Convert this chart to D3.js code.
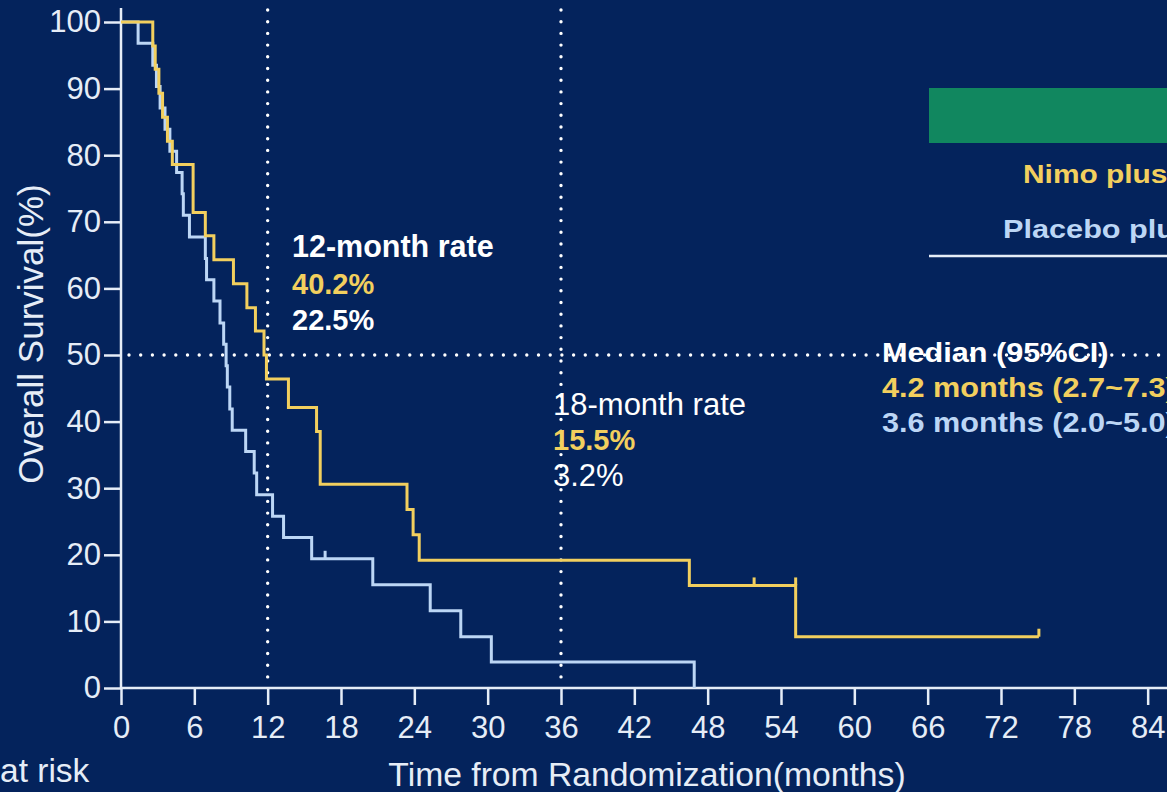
<!DOCTYPE html>
<html>
<head>
<meta charset="utf-8">
<script src="https://cdn.jsdelivr.net/npm/d3@7"></script>
<style>
  html, body { margin: 0; padding: 0; background: #04235c; overflow: hidden; }
  svg { display: block; font-family: "Liberation Sans", Arial, sans-serif; }
</style>
</head>
<body>
<svg id="chart" width="1167" height="792"></svg>
<script>
// Kaplan–Meier step data (months, survival %)
const nimoTimes = [0, 2.6, 2.8, 3.1, 3.4, 3.8, 4.2, 5.9, 6.9, 7.6, 9.2, 10.3, 11.0, 11.7, 11.9, 13.7, 16.0, 16.3, 23.4, 23.9, 24.4, 46.5, 55.2, 75.1];
const nimoSurv  = [100, 96.4, 92.9, 89.3, 85.7, 82.1, 78.6, 71.4, 67.9, 64.3, 60.7, 57.1, 53.6, 50.0, 46.4, 42.1, 38.5, 30.6, 26.8, 23.0, 19.2, 15.4, 7.7, 7.7];
const nimoCensor = [51.8, 55.2, 75.1];

const placeboTimes = [0, 1.4, 2.6, 2.9, 3.2, 3.6, 4.0, 4.55, 5.0, 5.1, 5.6, 6.9, 7.0, 7.6, 8.1, 8.4, 8.6, 8.7, 8.9, 9.1, 10.2, 10.9, 11.1, 12.4, 13.3, 15.6, 20.6, 25.3, 27.8, 30.3, 46.9];
const placeboSurv  = [100, 96.8, 93.5, 90.3, 87.1, 83.9, 80.6, 77.4, 74.2, 71.0, 67.7, 64.5, 61.3, 58.1, 54.8, 51.6, 48.4, 45.2, 41.9, 38.7, 35.5, 32.3, 29.0, 25.8, 22.6, 19.4, 15.5, 11.6, 7.7, 3.9, 0];
const placeboCensor = [16.7];

const xTicks = d3.range(0, 85, 6);
const yTicks = d3.range(0, 101, 10);
const refMonths = [12, 36];
const refSurvival = 50;

const rate12 = ["12-month rate", "40.2%", "22.5%"];
const rate18 = ["18-month rate", "15.5%", "3.2%"];
const legendLabels = ["Nimo plus Gem", "Placebo plus Gem"];
const medianLabels = ["Median (95%CI)", "4.2 months (2.7~7.3)", "3.6 months (2.0~5.0)"];

const W = 1167, H = 792;
const colNimo = "#f2cf5e";
const colPlacebo = "#bcd6f5";
const colAxis = "#e6edf7";
const colText = "#ffffff";

const svg = d3.select("#chart");
svg.append("rect").attr("width", W).attr("height", H).attr("fill", "#04235c");

const x = d3.scaleLinear().domain([0, 36]).range([121, 561]);
const y = d3.scaleLinear().domain([0, 100]).range([688, 22]);

// reference dotted lines
const dots = svg.append("g").attr("stroke", "#ffffff").attr("stroke-width", 3.4)
  .attr("stroke-linecap", "round").attr("stroke-dasharray", "0 11.7");
refMonths.forEach(m => {
  dots.append("line").attr("x1", x(m)).attr("x2", x(m)).attr("y1", 10).attr("y2", y(0) - 4);
});
dots.append("line").attr("x1", x(0) + 8).attr("x2", W).attr("y1", y(refSurvival)).attr("y2", y(refSurvival));

// axes
const yAxis = d3.axisLeft(y).tickValues(yTicks).tickSize(17).tickPadding(3);
const gy = svg.append("g").attr("transform", `translate(${x(0)},0)`).call(yAxis);
gy.select(".domain").remove();
gy.selectAll(".tick line").attr("stroke", colAxis).attr("stroke-width", 2.5);
gy.selectAll(".tick text").attr("fill", colAxis).attr("font-size", 31).attr("font-family", "Liberation Sans, Arial, sans-serif");

const xAxis = d3.axisBottom(x).tickValues(xTicks).tickSize(17).tickPadding(11);
const gx = svg.append("g").attr("transform", `translate(0,${y(0)})`).call(xAxis);
gx.select(".domain").remove();
gx.selectAll(".tick line").attr("stroke", colAxis).attr("stroke-width", 2.5);
gx.selectAll(".tick text").attr("fill", colAxis).attr("font-size", 31).attr("font-family", "Liberation Sans, Arial, sans-serif");

svg.append("line").attr("x1", x(0)).attr("x2", x(0)).attr("y1", 8).attr("y2", y(0))
  .attr("stroke", colAxis).attr("stroke-width", 2.5);
svg.append("line").attr("x1", x(0)).attr("x2", W).attr("y1", y(0)).attr("y2", y(0))
  .attr("stroke", colAxis).attr("stroke-width", 2.5);

// survival curves
const line = d3.line().x(d => x(d[0])).y(d => y(d[1])).curve(d3.curveStepAfter);
function drawCurve(times, surv, censor, color) {
  const pts = times.map((t, i) => [t, surv[i]]);
  svg.append("path").datum(pts).attr("d", line).attr("fill", "none")
    .attr("stroke", color).attr("stroke-width", 3).attr("stroke-linejoin", "miter");
  const at = t => { let v = surv[0]; times.forEach((tt, i) => { if (tt <= t) v = surv[i]; }); return v; };
  censor.forEach(t => {
    const v = (t === times[times.length - 1]) ? surv[surv.length - 1] : at(t - 1e-6);
    svg.append("line").attr("x1", x(t)).attr("x2", x(t)).attr("y1", y(v)).attr("y2", y(v) - 8)
      .attr("stroke", color).attr("stroke-width", 3);
  });
}
drawCurve(placeboTimes, placeboSurv, placeboCensor, colPlacebo);
drawCurve(nimoTimes, nimoSurv, nimoCensor, colNimo);

// axis titles
svg.append("text").attr("transform", "translate(43,334) rotate(-90)").attr("text-anchor", "middle")
  .attr("fill", colAxis).attr("font-size", 35).text("Overall Survival(%)");
svg.append("text").attr("x", 647).attr("y", 786).attr("text-anchor", "middle")
  .attr("fill", colAxis).attr("font-size", 33.7).text("Time from Randomization(months)");
svg.append("text").attr("x", 0).attr("y", 782).attr("fill", colAxis).attr("font-size", 33.5).text("at risk");

// wide-set label helper
function wideText(px, py, sx, size, color, weight, str) {
  svg.append("g").attr("transform", `translate(${px},${py}) scale(${sx},1)`)
    .append("text").attr("fill", color).attr("font-size", size)
    .attr("font-weight", weight).text(str);
}

// landmark rates
const r12 = svg.append("g").attr("font-weight", "bold").attr("font-size", 29);
r12.append("text").attr("x", 292).attr("y", 257).attr("fill", colText).attr("font-size", 30.5).text(rate12[0]);
r12.append("text").attr("x", 292).attr("y", 294).attr("fill", colNimo).text(rate12[1]);
r12.append("text").attr("x", 292).attr("y", 330).attr("fill", colText).text(rate12[2]);

const r18 = svg.append("g").attr("font-size", 31);
r18.append("text").attr("x", 553).attr("y", 415).attr("fill", colText).text(rate18[0]);
r18.append("text").attr("x", 553).attr("y", 450).attr("fill", colNimo).attr("font-weight", "bold")
  .attr("font-size", 29).text(rate18[1]);
r18.append("text").attr("x", 553).attr("y", 486).attr("fill", colText).text(rate18[2]);

// legend block
svg.append("rect").attr("x", 929).attr("y", 88).attr("width", 300).attr("height", 55).attr("fill", "#11875f");
wideText(1023, 183, 1.15, 26, colNimo, "bold", legendLabels[0]);
wideText(1003, 238, 1.18, 26, colPlacebo, "bold", legendLabels[1]);
svg.append("line").attr("x1", 929).attr("x2", W).attr("y1", 256).attr("y2", 256)
  .attr("stroke", colAxis).attr("stroke-width", 2.5);

// medians
wideText(882, 362, 1.135, 27, colText, "bold", medianLabels[0]);
wideText(882, 397, 1.135, 27, colNimo, "bold", medianLabels[1]);
wideText(882, 432, 1.135, 27, colPlacebo, "bold", medianLabels[2]);
</script>
</body>
</html>
